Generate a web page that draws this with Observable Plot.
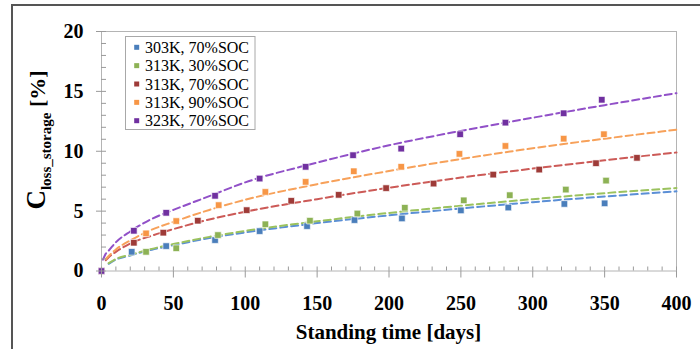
<!DOCTYPE html>
<html><head><meta charset="utf-8">
<script src="https://cdn.jsdelivr.net/npm/d3@7"></script>
<script src="https://cdn.jsdelivr.net/npm/@observablehq/plot@0.6"></script>
<style>
body{margin:0;background:#fff;overflow:hidden;}
#wrap{position:relative;width:700px;height:349px;overflow:hidden;background:#fff;}
#frame{position:absolute;left:11px;top:4px;width:720px;height:400px;border:2px solid #555;box-sizing:border-box;pointer-events:none;}
</style></head><body><div id="wrap"><div id="chart"></div><div id="frame"></div></div>
<script>
// Series
const seriesNames = ["303K, 70%SOC", "313K, 30%SOC", "313K, 70%SOC", "313K, 90%SOC", "323K, 70%SOC"];
const markerColors = ["#4A7EBB", "#8DB255", "#9E3B38", "#F79646", "#7030A0"];
const lineColors = ["#5B8FD6", "#9BC25E", "#CC5A57", "#F7A15A", "#9150C8"];

// Measured points (days, C_loss_storage %)
const days303K70 = [0, 21, 45, 79, 110, 143, 176, 209, 250, 283, 322, 350];
const vals303K70 = [0, 1.6, 2.08, 2.58, 3.33, 3.75, 4.25, 4.39, 5.06, 5.3, 5.6, 5.65];
const days313K30 = [0, 31, 52, 81, 114, 145, 178, 211, 252, 284, 323, 351];
const vals313K30 = [0, 1.6, 1.9, 3.0, 3.9, 4.2, 4.8, 5.28, 5.9, 6.33, 6.8, 7.55];
const days313K70 = [0, 22.5, 43, 67, 101, 132, 165, 198, 231, 272.5, 304.5, 344, 372.5];
const vals313K70 = [0, 2.36, 3.2, 4.2, 5.08, 5.86, 6.36, 6.92, 7.3, 8.05, 8.47, 9.0, 9.45];
const days313K90 = [0, 31, 52, 81.5, 114, 142, 175.5, 208.5, 249, 281, 321.5, 349.5];
const vals313K90 = [0, 3.14, 4.17, 5.5, 6.6, 7.44, 8.33, 8.7, 9.78, 10.44, 11.05, 11.42];
const days323K70 = [0, 22.5, 45, 79, 110, 142, 175, 208.5, 249.5, 281, 321.5, 348];
const vals323K70 = [0, 3.36, 4.86, 6.28, 7.72, 8.7, 9.67, 10.22, 11.42, 12.39, 13.17, 14.3];

// Trend (dashed) lines
const fitDays = [1, 3, 5, 10, 20, 35, 50, 75, 100, 150, 200, 250, 300, 350, 400];
const fit303K70 = [null, null, 0.6, 0.95, 1.3, 1.78, 2.15, 2.75, 3.22, 4.0, 4.65, 5.22, 5.75, 6.22, 6.65];
const fit313K30 = [null, null, 0.65, 1.0, 1.35, 1.85, 2.25, 2.85, 3.35, 4.15, 4.85, 5.45, 6.0, 6.5, 6.93];
const fit313K70 = [null, 0.9, 1.15, 1.6, 2.3, 2.95, 3.5, 4.3, 4.95, 6.0, 6.95, 7.8, 8.55, 9.25, 9.9];
const fit313K90 = [null, 1.0, 1.25, 1.8, 2.55, 3.45, 4.1, 5.1, 5.95, 7.25, 8.35, 9.35, 10.25, 11.05, 11.8];
const fit323K70 = [0.95, 1.45, 1.7, 2.4, 3.3, 4.35, 5.1, 6.25, 7.4, 9.05, 10.5, 11.7, 12.8, 13.85, 14.85];

// Axis ticks
const xMajor = [0, 50, 100, 150, 200, 250, 300, 350, 400];
const yMajor = [0, 5, 10, 15, 20];
const xMinor = d3.range(0, 401, 10);
const yMinor = d3.range(0, 21, 1);

const ptDays = [days303K70, days313K30, days313K70, days313K90, days323K70];
const ptVals = [vals303K70, vals313K30, vals313K70, vals313K90, vals323K70];
const fitVals = [fit303K70, fit313K30, fit313K70, fit313K90, fit323K70];

const marks = [Plot.frame({stroke: "#b4b4b4"})];
seriesNames.forEach((name, i) => {
  const fit = fitDays.map((d, j) => ({day: d, value: fitVals[i][j]})).filter(r => r.value != null);
  marks.push(Plot.line(fit, {x: "day", y: "value", stroke: lineColors[i], strokeWidth: 2, strokeDasharray: "7,4", curve: "monotone-x"}));
});
seriesNames.forEach((name, i) => {
  const pts = ptDays[i].map((d, j) => ({day: d, value: ptVals[i][j]}));
  marks.push(Plot.dot(pts, {x: "day", y: "value", symbol: "square", r: 3.7, fill: markerColors[i], stroke: "white", strokeWidth: 0.8, strokeOpacity: 0.8}));
});
marks.push(
  Plot.axisY({ticks: yMinor, tickSize: -5, tickFormat: () => "", stroke: "#9a9a9a", label: null}),
  Plot.axisY({ticks: yMajor, tickSize: 5, tickPadding: 13, stroke: "#9a9a9a", label: null}),
  Plot.axisX({ticks: xMinor, tickSize: -4, tickFormat: () => "", stroke: "#9a9a9a", label: null}),
  Plot.axisX({ticks: xMajor, tickSize: 7, tickPadding: 18, stroke: "#9a9a9a", label: null})
);

const chart = Plot.plot({
  width: 700, height: 349,
  marginLeft: 101, marginRight: 24, marginTop: 31, marginBottom: 78.5,
  x: {domain: [0, 400], label: null},
  y: {domain: [0, 20], label: null},
  style: {fontFamily: "'Liberation Serif', 'Times New Roman', serif", fontSize: "20px", fontWeight: "bold", color: "#000", background: "#fff"},
  marks
});
document.getElementById("chart").appendChild(chart);

const svg = d3.select(chart);
// X title
svg.append("text").attr("x", 388.5).attr("y", 339).attr("text-anchor", "middle")
  .style("font-size", "21px").style("font-weight", "bold").text("Standing time [days]");
// Y title
const yt = svg.append("text").attr("transform", "translate(45,140) rotate(-90)").attr("text-anchor", "middle")
  .style("font-weight", "bold");
yt.append("tspan").style("font-size", "27px").text("C");
yt.append("tspan").style("font-size", "15px").attr("dy", 6).text("loss_storage");
yt.append("tspan").style("font-size", "22px").attr("dy", -6).text(" [%]");

// Legend
const lg = svg.append("g").attr("text-anchor", "start");
lg.append("rect").attr("x", 125.5).attr("y", 36.5).attr("width", 129.5).attr("height", 93)
  .attr("fill", "white").attr("stroke", "#a8a8a8");
seriesNames.forEach((name, i) => {
  const cy = 47.3 + i * 18.35;
  lg.append("rect").attr("x", 134.2).attr("y", cy - 2.5).attr("width", 5).attr("height", 5).attr("fill", markerColors[i]);
  lg.append("text").attr("x", 145).attr("y", cy).attr("dy", "0.35em").attr("text-anchor", "start")
    .style("font-size", "16px").style("font-weight", "normal").text(name);
});
</script>
</body></html>
